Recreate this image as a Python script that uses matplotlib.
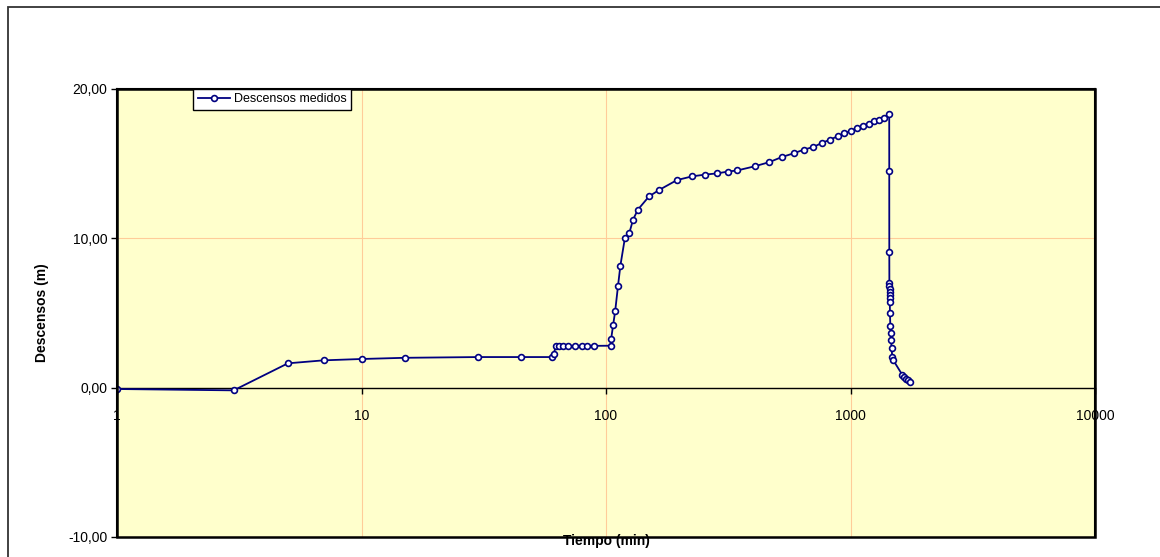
import matplotlib
matplotlib.use("Agg")
import matplotlib.pyplot as plt
from matplotlib.patches import Rectangle
from matplotlib.ticker import FixedLocator, FuncFormatter

# tiempo (min) y descensos (m)
tiempo = [1, 3, 5, 7, 10, 15, 30, 45, 60, 61,
          62.5, 64.5, 67, 70, 75, 80, 84, 89.5,
          104.5, 105, 107, 109, 112, 114.5, 119.5, 124.5, 129, 135,
          150, 165, 195, 225, 255, 285, 315, 345, 405, 465,
          525, 585, 645, 705, 765, 825, 885, 945, 1005, 1065,
          1125, 1185, 1245, 1305, 1365, 1440,
          1440.5, 1441, 1442, 1443, 1444, 1445, 1446, 1447, 1448,
          1450, 1455, 1460, 1465, 1473, 1481, 1497,
          1630, 1655, 1682, 1714, 1751]
descensos = [-0.09, -0.18, 1.63, 1.83, 1.92, 2.0, 2.05, 2.05, 2.05, 2.25,
             2.8, 2.8, 2.8, 2.8, 2.8, 2.8, 2.8, 2.8,
             2.81, 3.28, 4.22, 5.11, 6.83, 8.17, 10.03, 10.34, 11.25, 11.92,
             12.81, 13.24, 13.9, 14.15, 14.27, 14.35, 14.47, 14.55, 14.82, 15.1,
             15.45, 15.69, 15.94, 16.12, 16.39, 16.61, 16.83, 17.03, 17.21, 17.39,
             17.55, 17.68, 17.84, 17.95, 18.06, 18.33,
             14.51, 9.06, 7.03, 6.83, 6.63, 6.43, 6.23, 5.98, 5.71,
             4.98, 4.13, 3.64, 3.17, 2.66, 2.08, 1.83,
             0.85, 0.72, 0.6, 0.49, 0.36]

x_ticks = [1, 10, 100, 1000, 10000]
y_ticks = [-10, 0, 10, 20]

FONT = ["Liberation Sans Narrow", "Liberation Sans", "DejaVu Sans"]
plt.rcParams["font.family"] = FONT

fig = plt.figure(figsize=(11.6, 5.57), dpi=100)
ax = fig.add_axes([117 / 1160, 1 - 537 / 557, 978 / 1160, 448 / 557])
ax.set_facecolor("#FFFFCC")

# marco exterior del grafico
fig.patches.append(Rectangle((8 / 1160, -0.2), 1.5, 1.2 - 7 / 557,
                             transform=fig.transFigure, fill=False,
                             edgecolor="#333333", lw=1.3))

ax.plot(tiempo, descensos, color="#000080", lw=1.3, marker="o", ms=4.2,
        mfc="white", mec="#000080", mew=1.2, label="Descensos medidos",
        zorder=4)

ax.set_xscale("log")
ax.set_xlim(1, 10000)
ax.set_ylim(-10, 20)
ax.xaxis.set_major_locator(FixedLocator(x_ticks))
ax.xaxis.set_minor_locator(FixedLocator([]))
ax.xaxis.set_major_formatter(FuncFormatter(lambda v, p: f"{v:.0f}"))
ax.yaxis.set_major_locator(FixedLocator(y_ticks))
ax.yaxis.set_major_formatter(FuncFormatter(lambda v, p: f"{v:.2f}".replace(".", ",")))

# el eje x cruza en y = 0
ax.spines["bottom"].set_position(("data", 0))
ax.spines["bottom"].set_linewidth(1.0)
for s in ("left", "right", "top"):
    ax.spines[s].set_linewidth(1.5)
ax.add_patch(Rectangle((0, 0), 1, 1, transform=ax.transAxes, fill=False,
                       edgecolor="black", lw=1.8, zorder=5, clip_on=False))

ax.grid(True, which="major", color="#FFCC99", lw=0.8)
ax.set_axisbelow(True)

ax.tick_params(axis="x", direction="out", length=4.5, width=1, pad=11,
               labelsize=10, colors="black")
ax.tick_params(axis="y", direction="out", length=4, width=1, pad=3,
               labelsize=10)

ax.text(0.5, -0.01, "Tiempo (min)", transform=ax.transAxes, ha="center",
        va="center", fontsize=10, fontweight="bold", zorder=6)
fig.text(42 / 1160, 1 - 313 / 557, "Descensos (m)", rotation=90,
         ha="center", va="center", fontsize=10, fontweight="bold")

leg = ax.legend(loc="upper left", bbox_to_anchor=(0.078, 1.0), borderaxespad=0,
                fontsize=9, frameon=True, fancybox=False, framealpha=1,
                edgecolor="black", handlelength=2.6, borderpad=0.35,
                handletextpad=0.3)
leg.get_frame().set_linewidth(1.0)

fig.savefig("out.png", dpi=100)
